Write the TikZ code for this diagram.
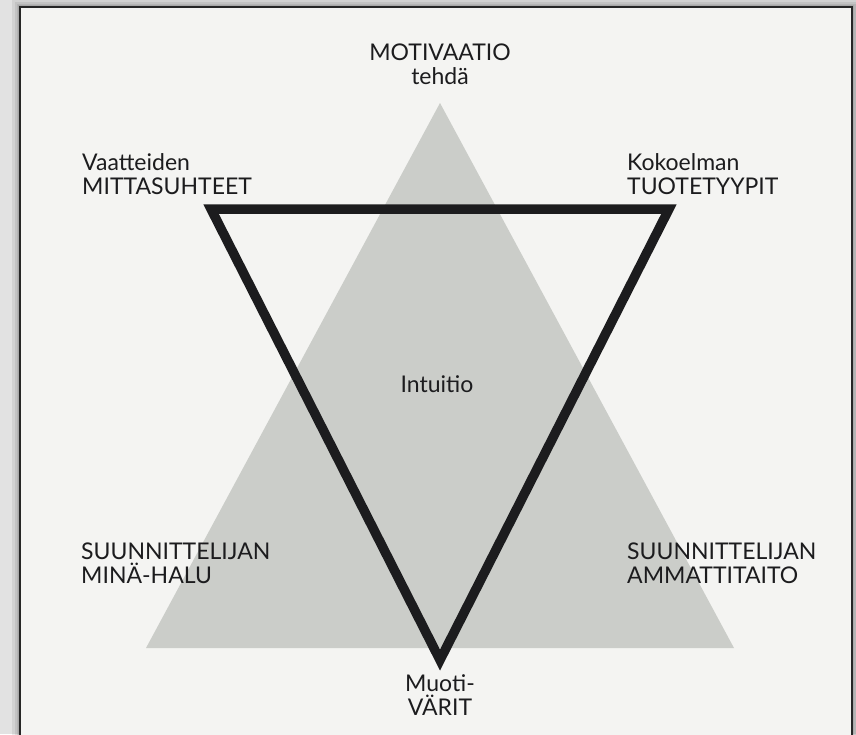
\documentclass[tikz,border=0pt]{standalone}
\usepackage{fontspec}
\setmainfont{Lato}
\definecolor{paper}{RGB}{244,244,242}
\definecolor{shadowbg}{RGB}{226,226,226}
\definecolor{trigray}{RGB}{203,205,201}
\definecolor{ink}{RGB}{28,28,30}
\begin{document}
\begin{tikzpicture}[x=1pt,y=-1pt,
  lbl/.style={font=\fontsize{23}{24}\selectfont, text=ink, inner sep=0pt, align=left, anchor=north west},
  clbl/.style={font=\fontsize{23}{24}\selectfont, text=ink, inner sep=0pt, align=center},
  blacktri/.style={draw=ink, line width=9.5pt, line join=miter},
  graytri/.style={fill=trigray}
]
\useasboundingbox (0,0) rectangle (856,734);
% background and page
\fill[shadowbg] (0,0) rectangle (856,734);
\foreach \w in {16,11,7,4} \draw[black, opacity=0.07, line width=\w pt] (20,7) rectangle (852,745);
\fill[paper] (20,7) rectangle (852,745);
\draw[black!85, line width=1.2pt] (20,745) -- (20,7) -- (852,7) -- (852,745);
% gray triangle
\coordinate (apex) at (440,103);
\coordinate (bl) at (146,648);
\coordinate (br) at (734,648);
\fill[graytri] (apex) -- (br) -- (bl) -- cycle;
% black inverted triangle
\coordinate (tl) at (211,209);
\coordinate (tr) at (669,209);
\coordinate (bv) at (440,660);
\draw[blacktri] (tl) -- (tr) -- (bv) -- cycle;
% labels
\node[clbl] (mot) at (440,64) {MOTIVAATIO\\tehdä};
\node[lbl] (vaat) at (82,153) {Vaatteiden\\MITTASUHTEET};
\node[lbl] (koko) at (627,153) {Kokoelman\\TUOTETYYPIT};
\node[clbl] (intu) at (437,384) {Intuitio};
\node[lbl] (mina) at (81,543) {SUUNNITTELIJAN\\MINÄ-HALU};
\node[lbl] (amma) at (627,543) {SUUNNITTELIJAN\\AMMATTITAITO};
\node[clbl] (muot) at (440,695) {Muoti-\\VÄRIT};
\end{tikzpicture}
\end{document}
